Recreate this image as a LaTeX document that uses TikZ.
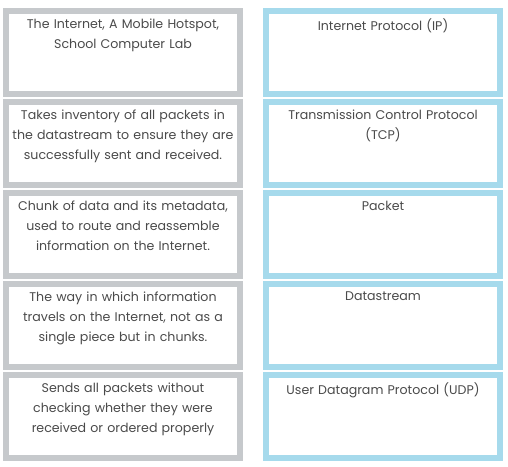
\documentclass[tikz,border=0pt]{standalone}
\usepackage{fontspec}
\setmainfont{Poppins}
\usetikzlibrary{positioning}

\definecolor{boxgray}{HTML}{C6C9CC}
\definecolor{boxblue}{HTML}{A6DAEC}
\definecolor{textgray}{HTML}{4A4A4A}

\tikzset{
  card/.style={draw, line width=6pt, minimum width=234pt, minimum height=83pt, inner sep=0pt},
  defcard/.style={card, draw=boxgray},
  termcard/.style={card, draw=boxblue},
  cardtext/.style={anchor=north, text width=228pt, align=center, inner sep=0pt,
    font=\fontsize{12.6}{20}\selectfont, text=textgray, yshift=-11pt}
}

\begin{document}
\begin{tikzpicture}[x=1pt,y=1pt]
    \useasboundingbox (0,0) rectangle (508,-466);
    % left column: descriptions
    \node[defcard] (def1) at (123,-52.5) {};
    \node[defcard, below=2pt of def1] (def2) {};
    \node[defcard, below=2pt of def2] (def3) {};
    \node[defcard, below=2pt of def3] (def4) {};
    \node[defcard, below=2pt of def4] (def5) {};
    % right column: terms
    \node[termcard, right=20pt of def1] (term1) {};
    \node[termcard, right=20pt of def2] (term2) {};
    \node[termcard, right=20pt of def3] (term3) {};
    \node[termcard, right=20pt of def4] (term4) {};
    \node[termcard, right=20pt of def5] (term5) {};
    % texts
    \node[cardtext] (def1text) at (def1.north) {The Internet, A Mobile Hotspot,\\School Computer Lab};
    \node[cardtext] (def2text) at (def2.north) {Takes inventory of all packets in\\the datastream to ensure they are\\successfully sent and received.};
    \node[cardtext] (def3text) at (def3.north) {Chunk of data and its metadata,\\used to route and reassemble\\information on the Internet.};
    \node[cardtext] (def4text) at (def4.north) {The way in which information\\travels on the Internet, not as a\\single piece but in chunks.};
    \node[cardtext] (def5text) at (def5.north) {Sends all packets without\\checking whether they were\\received or ordered properly};
    \node[cardtext] (term1text) at (term1.north) {Internet Protocol (IP)};
    \node[cardtext] (term2text) at (term2.north) {Transmission Control Protocol\\(TCP)};
    \node[cardtext] (term3text) at (term3.north) {Packet};
    \node[cardtext] (term4text) at (term4.north) {Datastream};
    \node[cardtext] (term5text) at (term5.north) {User Datagram Protocol (UDP)};
  \end{tikzpicture}
\end{document}
